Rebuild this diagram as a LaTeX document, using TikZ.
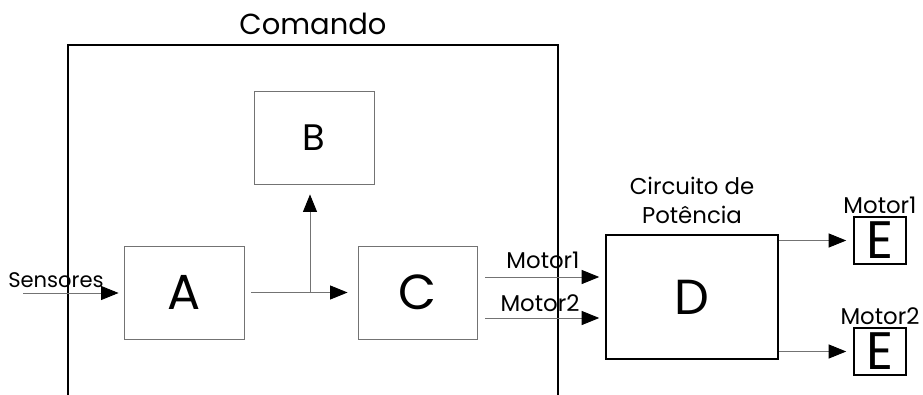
\documentclass[tikz,border=0pt]{standalone}
\usepackage{fontspec}
\setmainfont{Poppins}
\usetikzlibrary{arrows.meta,positioning}

\begin{document}
\begin{tikzpicture}[x=0.02cm, y=-0.02cm,
    every node/.style={inner sep=0pt, text=black},
    block/.style={draw=black!55, line width=0.5pt, minimum width=2.4cm, minimum height=1.86cm, font=\fontsize{28}{30}\selectfont},
    power/.style={draw=black, line width=0.9pt, minimum width=3.44cm, minimum height=2.48cm, font=\fontsize{28}{30}\selectfont},
    motor/.style={draw=black, line width=0.9pt, minimum width=1.04cm, minimum height=0.94cm, font=\fontsize{30}{30}\selectfont},
    tag/.style={font=\fontsize{13}{16.5}\selectfont},
    flow/.style={draw=black!55, line width=0.5pt, -{Triangle[length=10pt, width=8pt, color=black]}},
    ]
  \useasboundingbox (0,0) rectangle (923,395);
  \node[draw, line width=1.1pt, minimum width=9.8cm, minimum height=7.14cm,
        label={[font=\fontsize{16.5}{20}\selectfont, label distance=0.18cm]above:Comando}] (comando) at (313,223.5) {};
  \node[block, font=\fontsize{21}{24}\selectfont] (B) at (314,137.5) {B};
  \node[block] (A) at (184,292.5) {A};
  \node[block, minimum width=2.38cm] (C) at (417.5,292.5) {C};
  \node[power, label={[tag, align=center, label distance=0.2cm]above:Circuito de\\Potência}] (D) at (692,297) {D};
  \node[motor] (E1) at (880,240.5) {E};
  \node[motor] (E2) at (880,351.5) {E};
  \node[tag, above=0.05cm of E1] (lm1) {Motor1};
  \node[tag, above=0.05cm of E2] (lm2) {Motor2};
  \coordinate (sin) at (23,293);
  \node[tag, font=\fontsize{12}{15}\selectfont, anchor=base east] (sens) at (104,287) {Sensores};
  \draw[flow, shorten >=0.1cm] (sin) -- (sin -| A.west);
  \draw[flow, shorten <=0.14cm, shorten >=0.2cm] (A) -- (C);
  \coordinate (split) at (310,292.5);
  \draw[flow, shorten >=0.2cm] (split) -- (split |- B.south);
  \coordinate (m1) at (485,277);
  \coordinate (m2) at (485,318);
  \draw[flow, shorten >=0.12cm] (m1) -- (m1 -| D.west);
  \draw[flow, shorten >=0.12cm] (m2) -- (m2 -| D.west);
  \node[tag] (lc1) at (543,260) {Motor1};
  \node[tag] (lc2) at (540,303) {Motor2};
  \draw[flow, shorten >=0.14cm] (D.east |- E1) -- (E1);
  \draw[flow, shorten >=0.14cm] (D.east |- E2) -- (E2);
\end{tikzpicture}
\end{document}
